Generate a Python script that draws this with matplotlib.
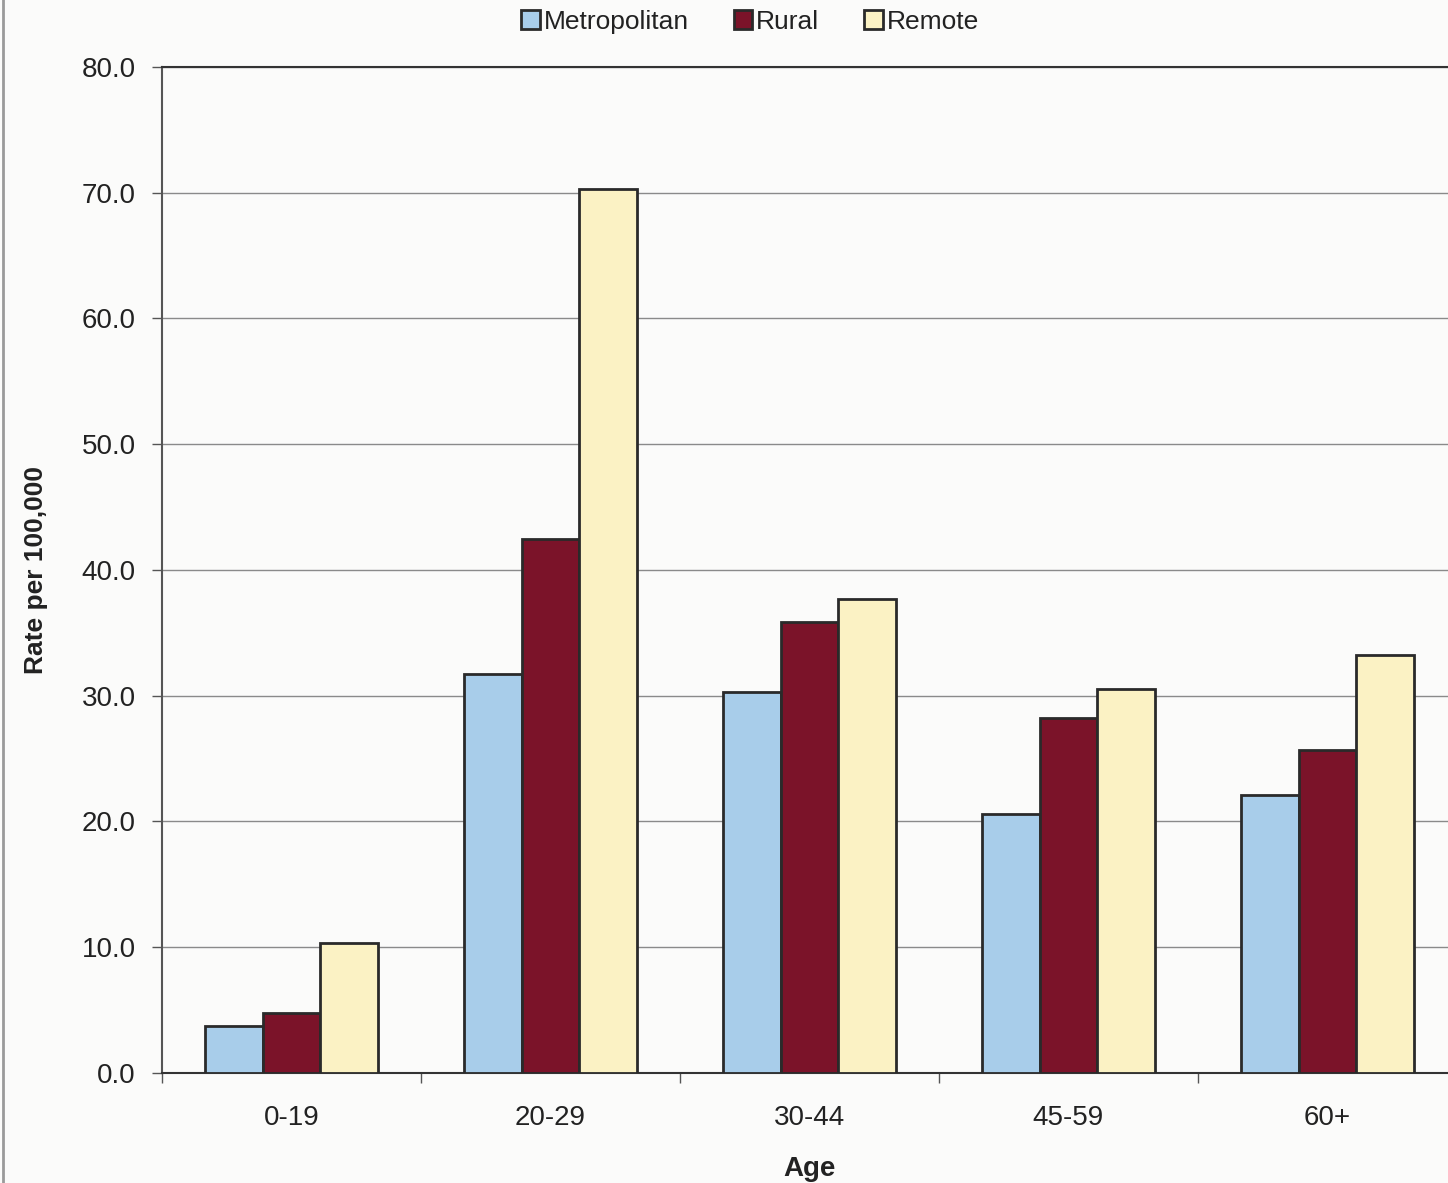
import matplotlib.pyplot as plt
import numpy as np

plt.rcParams['font.family'] = ['Liberation Sans', 'DejaVu Sans']

ages = ["0-19", "20-29", "30-44", "45-59", "60+"]
metropolitan = [3.7, 31.7, 30.3, 20.6, 22.1]
rural = [4.8, 42.5, 35.9, 28.2, 25.7]
remote = [10.3, 70.3, 37.7, 30.5, 33.2]

series = [("Metropolitan", metropolitan, "#a8cdea"),
          ("Rural", rural, "#7b1329"),
          ("Remote", remote, "#fbf2c4")]

fig = plt.figure(figsize=(14.48, 11.83), dpi=100, facecolor="#fbfbfa")
ax = fig.add_axes([0.1119, 0.093, 0.8943, 0.8504])
ax.set_facecolor("#fbfbfa")

x = np.arange(len(ages))
w = 1 / 4.5
for i, (name, vals, col) in enumerate(series):
    ax.bar(x + (i - 1) * w, vals, w, color=col, edgecolor="#2a2a2a",
           linewidth=2, label=name, zorder=3)

ax.set_xlim(-0.5, len(ages) - 0.5)
ax.set_ylim(0, 80)
ax.set_yticks(np.arange(0, 81, 10))
ax.set_yticklabels([f"{v:.1f}" for v in np.arange(0, 81, 10)])
ax.set_xticks(x)
ax.set_xticklabels(ages)
ax.set_xticks(np.arange(-0.5, len(ages)), minor=True)
ax.tick_params(axis="x", which="major", length=0, pad=23, labelsize=20, colors="#222222")
ax.tick_params(axis="x", which="minor", length=7, width=1, color="#555555")
ax.tick_params(axis="y", length=7, width=1, color="#555555", pad=12,
               labelsize=20, labelcolor="#222222")

ax.yaxis.grid(True, color="#8a8a8a", linewidth=1, zorder=0)
ax.spines["right"].set_visible(False)
ax.spines["top"].set_color("#333333")
ax.spines["top"].set_linewidth(1.5)
ax.spines["left"].set_color("#555555")
ax.spines["left"].set_linewidth(1.5)
ax.spines["bottom"].set_color("#333333")
ax.spines["bottom"].set_linewidth(1.5)

ax.set_xlabel("Age", fontsize=20, fontweight="bold", labelpad=18, color="#222222")
ax.set_ylabel("Rate per 100,000", fontsize=19, fontweight="bold", labelpad=24, color="#222222")

fig.legend(loc="upper center", bbox_to_anchor=(0.518, 1.012), ncol=3, frameon=False,
           fontsize=19, handlelength=0.7, handleheight=0.7, handletextpad=0.15,
           columnspacing=1.7, labelcolor="#222222")

fig.add_artist(plt.Line2D([0.002, 0.002], [0, 1], color="#9a9a9a", linewidth=2,
                          transform=fig.transFigure))

fig.savefig("out.png", dpi=100, facecolor=fig.get_facecolor())
